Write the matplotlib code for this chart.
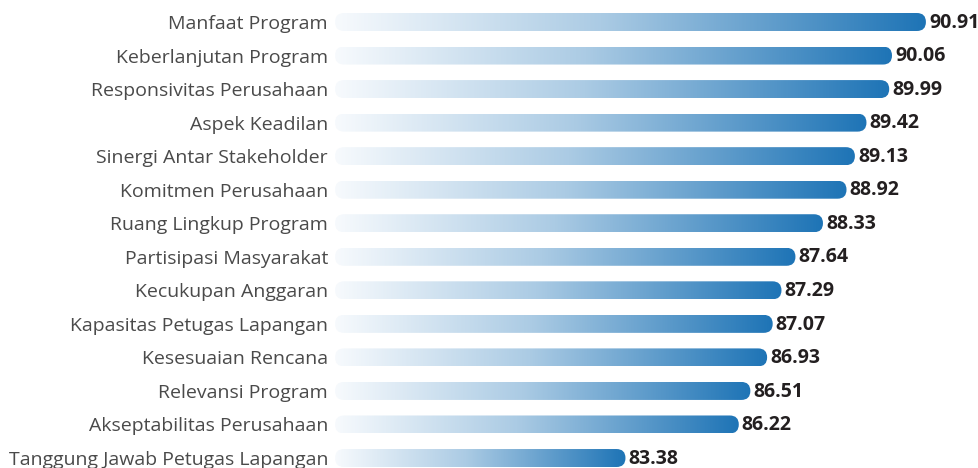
import matplotlib
matplotlib.use("Agg")
import matplotlib.pyplot as plt
import numpy as np
from matplotlib.patches import FancyBboxPatch
from matplotlib.colors import LinearSegmentedColormap

categories = [
    "Manfaat Program",
    "Keberlanjutan Program",
    "Responsivitas Perusahaan",
    "Aspek Keadilan",
    "Sinergi Antar Stakeholder",
    "Komitmen Perusahaan",
    "Ruang Lingkup Program",
    "Partisipasi Masyarakat",
    "Kecukupan Anggaran",
    "Kapasitas Petugas Lapangan",
    "Kesesuaian Rencana",
    "Relevansi Program",
    "Akseptabilitas Perusahaan",
    "Tanggung Jawab Petugas Lapangan",
]
values = [90.91, 90.06, 89.99, 89.42, 89.13, 88.92, 88.33, 87.64, 87.29,
          87.07, 86.93, 86.51, 86.22, 83.38]
value_labels = [f"{v:.2f}" for v in values]

W, H = 979, 468
fig = plt.figure(figsize=(W / 100, H / 100), dpi=100)
ax_left_px = 335
ax = fig.add_axes([ax_left_px / W, 0, 1 - ax_left_px / W, 1])

px_per_unit = 39.9
x_min = 76.1
x_max = x_min + (W - ax_left_px) / px_per_unit
row_px = 33.54
top_px = 22
y_top = -top_px / row_px
y_bot = (len(categories) - 1) + (H - top_px - row_px * (len(categories) - 1)) / row_px

cmap = LinearSegmentedColormap.from_list(
    "grad", [(0, "#f7fafd"), (0.45, "#abcbe4"), (1.0, "#1e74b6")])
grad = np.linspace(0, 1, 256).reshape(1, -1)

bar_h = 18 / row_px
ypos = np.arange(len(categories))
bars = ax.barh(ypos, [v - x_min for v in values], left=x_min, height=bar_h,
               color="none", edgecolor="none")

r_x = (bar_h * row_px / 2) / px_per_unit
aspect = (1 / row_px) / (1 / px_per_unit)
for b, lab in zip(bars, value_labels):
    x0, y0, w, h = b.get_x(), b.get_y(), b.get_width(), b.get_height()
    patch = FancyBboxPatch((x0, y0), w, h,
                           boxstyle=f"round,pad=0,rounding_size={r_x}",
                           mutation_aspect=aspect, facecolor="none",
                           edgecolor="none")
    ax.add_patch(patch)
    im = ax.imshow(grad, cmap=cmap, aspect="auto",
                   extent=(x0, x0 + w, y0 + h, y0), interpolation="bilinear")
    im.set_clip_path(patch)
    ax.text(x0 + w + 3 / px_per_unit, y0 + h / 2 + 0.02, lab, ha="left",
            va="center", fontsize=14, fontweight="bold", color="#231f20",
            family="Open Sans")

ax.set_xlim(x_min, x_max)
ax.set_ylim(y_bot, y_top)
ax.set_yticks(ypos)
ax.set_yticklabels(categories, fontsize=14, color="#4a4a4a", family="Open Sans")
ax.tick_params(axis="y", length=0, pad=5)
ax.set_xticks([])
for s in ax.spines.values():
    s.set_visible(False)
ax.patch.set_alpha(0)

fig.savefig("out.png", dpi=100)
